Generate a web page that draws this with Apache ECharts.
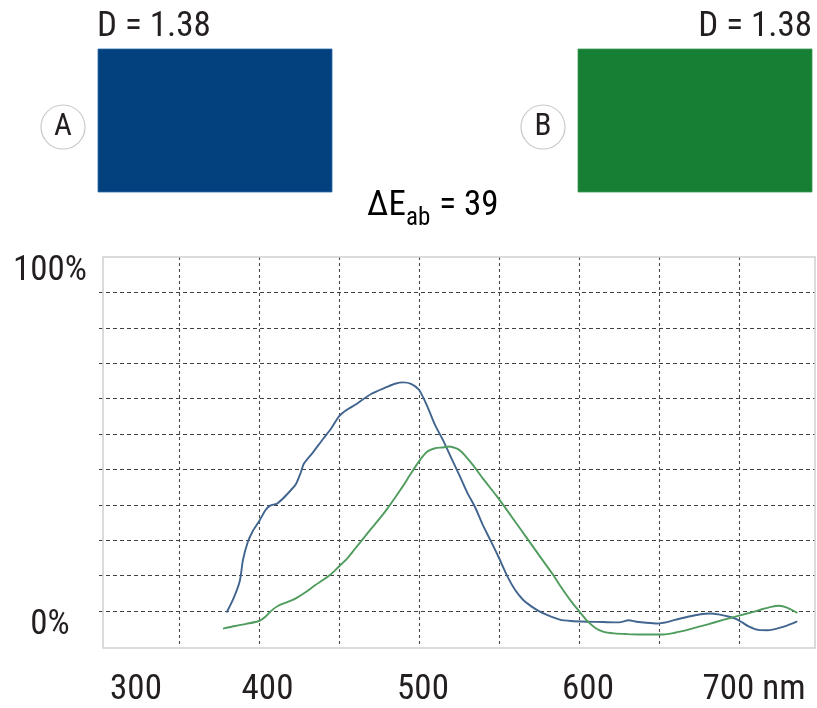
<!DOCTYPE html>
<html>
<head>
<meta charset="utf-8">
<script src="https://cdn.jsdelivr.net/npm/echarts@6/dist/echarts.min.js"></script>
<style>html,body{margin:0;padding:0;background:#fff;}#c{width:817px;height:708px;}</style>
</head>
<body>
<div id="c"></div>
<script>
// ---- data ----
const swatchNames = ['A', 'B'];
const densities = [1.38, 1.38];
const deltaE = 39;
const xTickLabels = [300, 400, 500, 600, 700];
const xGridValues = [350, 400, 450, 500, 550, 600, 650, 700];
const yTickLabels = [0, 100];
const yGridValues = [10, 20, 30, 40, 50, 60, 70, 80, 90, 100];

const blueWavelengths = [380,384,388,390,393,396,400,404,407,411,415,420,423,426,428,433,440,445,450,454,461,470,480,485,490,495,500,505,510,515,520,525,530,535,540,545,550,555,560,565,570,575,580,588,595,605,615,625,631,636,642,649,655,660,668,676,682,688,694,698,702,706,712,718,724,730,736];
const blueValues = [9.8,13.5,18.5,24.5,29.5,32.5,35.3,38.5,39.8,40.3,41.8,44.2,45.8,49,51.6,54.4,58.6,61.5,65,66.6,68.5,71.3,73.3,74.2,74.6,74.2,72.5,68,62.6,58.3,53.4,48.6,43.6,39.4,34.2,29.7,25,20,16,13.2,11.4,10,8.9,7.6,7.2,7,6.9,6.8,7.4,7,6.7,6.5,6.9,7.5,8.4,9.1,9.3,9,8.4,7.8,6.8,5.7,4.7,4.6,5.1,5.9,7];

const greenWavelengths = [378,385,392,400,404,408,412,418,423,430,435,440,445,450,455,460,465,470,475,480,485,490,495,500,505,511,515,519,523,526,530,534,540,548,555,560,567,575,584,588,595,600,605,610,615,622,630,638,645,653,658,663,670,680,690,700,709,715,720,725,730,736];
const greenValues = [5.1,5.8,6.4,7.2,8.4,10.2,11.5,12.6,13.6,15.6,17.3,18.8,20.4,22.6,24.8,27.6,30.4,33.2,35.9,38.8,42,45.3,48.9,52.3,55,56.1,56.2,56.5,56,55.2,53.3,51.1,47.4,42.8,38.5,35.3,30.9,25.8,20.1,17.3,12.8,10,7.3,5.3,4.2,3.7,3.5,3.4,3.4,3.4,3.7,4.2,5.0,6.2,7.5,8.7,9.8,10.6,11.2,11.5,11.0,9.6];

// ---- chart ----
const FONT = "'Liberation Sans Narrow', 'Roboto Condensed', Roboto, sans-serif";
const TXT = '#231f20';
const zip = (xs, ys) => xs.map((x, i) => [x, ys[i]]);

const chart = echarts.init(document.getElementById('c'), null, { renderer: 'canvas' });

const xShift = { 300: 74, 400: 17, 500: 8, 600: 18, 700: 30 };
const xRich = {};
xTickLabels.forEach(v => {
  xRich['s' + v] = { fontFamily: FONT, fontSize: 35, color: TXT, padding: [0, 0, 0, xShift[v]] };
});
const yRich = {
  t: { fontFamily: FONT, fontSize: 35, color: TXT, padding: [0, 0, 42, 0] }
};

const swatchColors = ['#02407e', '#177f34'];
const swatchX = [98, 578];
const circleX = [63, 543];

const graphics = [];
swatchNames.forEach((n, i) => {
  graphics.push({ type: 'rect', shape: { x: swatchX[i], y: 49, width: 234, height: 143 },
    style: { fill: swatchColors[i], stroke: i === 0 ? '#2f6aa8' : '#3a9a55', lineWidth: 0.8 } });
  graphics.push({ type: 'circle', shape: { cx: circleX[i], cy: 127, r: 22 },
    style: { fill: '#fff', stroke: '#c9c9c9', lineWidth: 1.2 } });
  graphics.push({ type: 'text', x: circleX[i], y: 127,
    style: { text: n, font: '31px ' + FONT, fill: TXT, textAlign: 'center', textVerticalAlign: 'middle' } });
  graphics.push({ type: 'text', x: i === 0 ? 97 : 812, y: 27,
    style: { text: 'D = ' + densities[i].toFixed(2), font: '35px ' + FONT, fill: TXT,
      textAlign: i === 0 ? 'left' : 'right', textVerticalAlign: 'middle' } });
});
graphics.push({ type: 'text', x: 367, y: 189,
  style: {
    text: '{m|ΔE}{s|ab}{m| = ' + deltaE + '}',
    textAlign: 'left', textVerticalAlign: 'top',
    rich: {
      m: { fontFamily: FONT, fontSize: 35, lineHeight: 35, color: TXT, verticalAlign: 'top' },
      s: { fontFamily: FONT, fontSize: 25, lineHeight: 25, color: TXT, verticalAlign: 'top', padding: [17, 1, 0, 0] }
    }
  } });
// plot frame
graphics.push({ type: 'rect', z: 1, shape: { x: 103, y: 257, width: 712, height: 391 },
  style: { fill: 'none', stroke: '#cfcfcf', lineWidth: 1.5 } });

const option = {
  backgroundColor: '#fff',
  animation: false,
  graphic: graphics,
  grid: { left: 99, top: 257, width: 716, height: 391, show: false },
  xAxis: {
    type: 'value', min: 300, max: 747.5,
    axisLine: { show: false },
    axisTick: { show: false, customValues: xGridValues },
    splitLine: { show: true, lineStyle: { color: '#4a4a4a', width: 1.1, type: [3, 3] } },
    axisLabel: {
      customValues: xTickLabels, margin: 44, verticalAlign: 'middle', align: 'center', hideOverlap: false,
      formatter: v => '{s' + v + '|' + v + (v === 700 ? ' nm' : '') + '}',
      rich: xRich
    }
  },
  yAxis: {
    type: 'value', min: 0, max: 110,
    axisLine: { show: false },
    axisTick: { show: false, customValues: yGridValues },
    splitLine: { show: true, lineStyle: { color: '#404040', width: 1.1, type: [4, 3] } },
    axisLabel: {
      customValues: yTickLabels, align: 'center', margin: 49, verticalAlign: 'middle', hideOverlap: false,
      formatter: v => '{t|' + v + '%}',
      rich: yRich
    }
  },
  series: [
    { name: 'A', type: 'line', data: zip(blueWavelengths, blueValues), showSymbol: false, symbol: 'none',
      smooth: 0.25,
      lineStyle: { color: '#41658f', width: 1.9, cap: 'round', join: 'round' }, z: 3 },
    { name: 'B', type: 'line', data: zip(greenWavelengths, greenValues), showSymbol: false, symbol: 'none',
      smooth: 0.25,
      lineStyle: { color: '#4f9c5e', width: 1.9, cap: 'round', join: 'round' }, z: 3 }
  ]
};
chart.setOption(option);
</script>
</body>
</html>
